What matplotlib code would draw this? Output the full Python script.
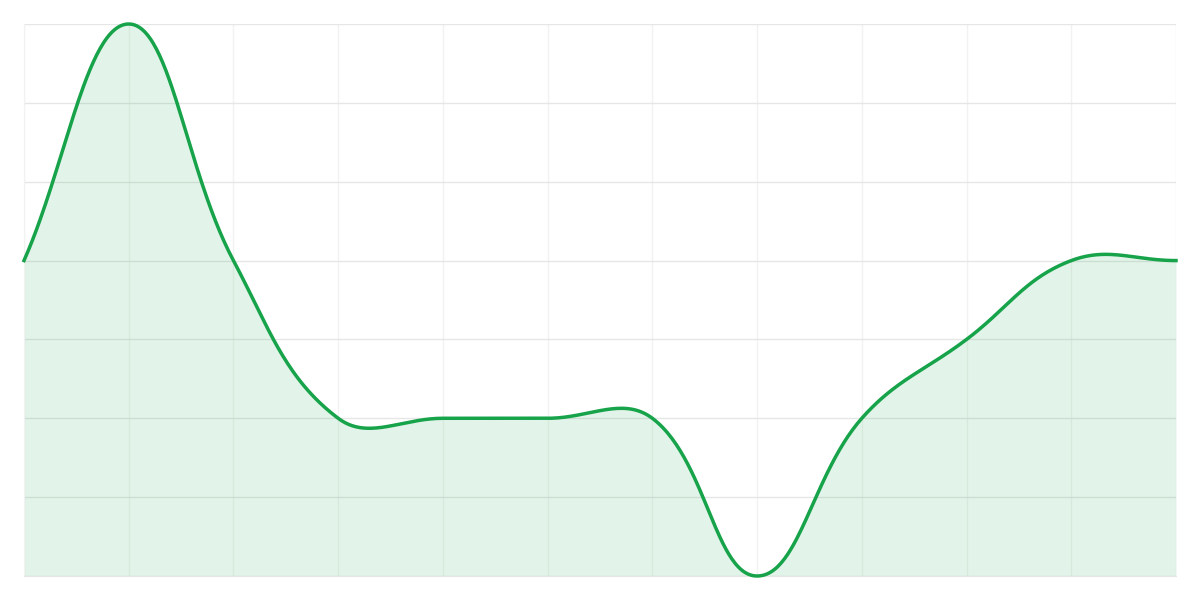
import numpy as np
import matplotlib
matplotlib.use("Agg")
import matplotlib.pyplot as plt

# values (12 points, y range 0..7)
x_idx = list(range(12))
values = [4, 7, 4, 2, 2, 2, 2, 0, 2, 3, 4, 4]

line_color = "#16a34a"

fig = plt.figure(figsize=(12, 6), dpi=100)
ax = fig.add_axes([24 / 1200, 24 / 600, 1152 / 1200, 552 / 600])

# smooth curve, chart.js style bezier (tension 0.4) computed in pixel space
xs = np.array(x_idx, dtype=float)
ys = np.array(values, dtype=float)
px = xs * (1152 / 11)
py = ys * (552 / 7)
tension = 0.4
n = len(xs)
cp_prev = np.zeros((n, 2))
cp_next = np.zeros((n, 2))
for i in range(n):
    p = np.array([px[i], py[i]])
    a = np.array([px[i - 1], py[i - 1]]) if i > 0 else p
    b = np.array([px[i + 1], py[i + 1]]) if i < n - 1 else p
    d01 = np.hypot(*(p - a))
    d12 = np.hypot(*(b - p))
    s01 = d01 / (d01 + d12) if d01 + d12 else 0
    s12 = d12 / (d01 + d12) if d01 + d12 else 0
    cp_prev[i] = p - tension * s01 * (b - a)
    cp_next[i] = p + tension * s12 * (b - a)

t = np.linspace(0, 1, 60)[:, None]
curve = []
for i in range(n - 1):
    p0 = np.array([px[i], py[i]])
    p3 = np.array([px[i + 1], py[i + 1]])
    p1 = cp_next[i]
    p2 = cp_prev[i + 1]
    seg = (1 - t) ** 3 * p0 + 3 * (1 - t) ** 2 * t * p1 + 3 * (1 - t) * t ** 2 * p2 + t ** 3 * p3
    curve.append(seg if i == 0 else seg[1:])
curve = np.vstack(curve)
cx = curve[:, 0] / (1152 / 11)
cy = np.clip(curve[:, 1] / (552 / 7), 0, 7)

ax.fill_between(cx, cy, 0, color=line_color, alpha=0.12, linewidth=0, zorder=1)
ax.plot(cx, cy, color=line_color, linewidth=2.5, zorder=3, clip_on=False)

ax.set_xlim(0, 11)
ax.set_ylim(0, 7)
ax.set_xticks(x_idx)
ax.set_yticks(range(8))
ax.grid(axis="y", color="#e6e6e6", linewidth=1, zorder=0)
ax.grid(axis="x", color="#f2f2f2", linewidth=1, zorder=0)
ax.set_axisbelow(True)
ax.tick_params(length=0, labelleft=False, labelbottom=False)
for side in ["top", "right"]:
    ax.spines[side].set_visible(False)
ax.spines["left"].set_color("#f2f2f2")
ax.spines["bottom"].set_color("#e6e6e6")

fig.savefig("out.png", dpi=100)
